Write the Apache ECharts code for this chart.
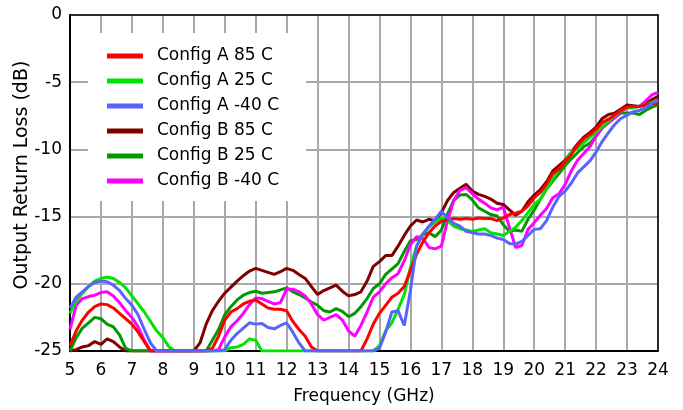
<!DOCTYPE html>
<html>
<head>
<meta charset="utf-8">
<script src="https://cdn.jsdelivr.net/npm/echarts@6/dist/echarts.min.js"></script>
<style>html,body{margin:0;padding:0;background:#fff}#c{width:683px;height:410px}</style>
</head>
<body>
<div id="c"></div>
<script>
// Frequency points (GHz)
const freq = [
 5.0,5.2,5.4,5.6,5.8,6.0,6.2,6.4,6.6,6.8,
 7.0,7.2,7.4,7.6,7.8,8.0,8.2,8.4,8.6,8.8,
 9.0,9.2,9.4,9.6,9.8,10.0,10.2,10.4,10.6,10.8,
 11.0,11.2,11.4,11.6,11.8,12.0,12.2,12.4,12.6,12.8,
 13.0,13.2,13.4,13.6,13.8,14.0,14.2,14.4,14.6,14.8,
 15.0,15.2,15.4,15.6,15.8,16.0,16.2,16.4,16.6,16.8,
 17.0,17.2,17.4,17.6,17.8,18.0,18.2,18.4,18.6,18.8,
 19.0,19.2,19.4,19.6,19.8,20.0,20.2,20.4,20.6,20.8,
 21.0,21.2,21.4,21.6,21.8,22.0,22.2,22.4,22.6,22.8,
 23.0,23.2,23.4,23.6,23.8,24.0];

const configA85 = [
 -24.6,-23.5,-22.7,-22.1,-21.7,-21.5,-21.55,-21.8,-22.2,-22.6,
 -23.0,-23.6,-24.3,-25,-25,-25,-25,-25,-25,-25,
 -25,-25,-25,-24.8,-23.9,-22.7,-22.1,-21.85,-21.5,-21.3,
 -21.2,-21.5,-21.8,-21.9,-21.9,-22.0,-22.8,-23.4,-23.9,-24.7,
 -25,-25,-25,-25,-25,-25,-25,-25,-24.1,-23.0,
 -22.2,-21.6,-21.0,-20.7,-20.2,-19.0,-17.8,-16.9,-16.2,-15.7,
 -15.35,-15.25,-15.15,-15.2,-15.15,-15.2,-15.1,-15.15,-15.15,-15.3,
 -15.1,-14.85,-14.75,-14.6,-14.2,-13.6,-13.2,-12.6,-11.8,-11.5,
 -10.9,-10.4,-9.7,-9.2,-8.9,-8.5,-8.0,-7.75,-7.45,-7.1,
 -6.85,-6.8,-6.8,-6.7,-6.6,-6.6];

const configA25 = [
 -22.2,-21.3,-20.7,-20.2,-19.8,-19.6,-19.5,-19.6,-19.9,-20.3,
 -20.9,-21.5,-22.1,-22.8,-23.5,-24.0,-24.7,-25,-25,-25,
 -25,-25,-25,-25,-25,-25,-24.75,-24.7,-24.5,-24.1,
 -24.2,-25,-25,-25,-25,-25,-25,-25,-25,-25,
 -25,-25,-25,-25,-25,-25,-25,-25,-25,-25,
 -24.6,-23.5,-22.9,-21.9,-20.8,-18.8,-17.2,-16.3,-15.8,-15.4,
 -15.1,-15.3,-15.7,-15.9,-16.0,-16.1,-16.0,-15.9,-16.2,-16.3,
 -16.4,-16.1,-15.8,-15.3,-14.7,-14.1,-13.7,-12.9,-12.2,-11.5,
 -10.9,-10.2,-9.9,-9.5,-9.1,-8.7,-8.3,-7.9,-7.5,-7.1,
 -6.9,-6.9,-6.8,-6.7,-6.5,-6.4];

const configAm40 = [
 -21.8,-21.0,-20.6,-20.2,-19.9,-19.8,-19.85,-20.1,-20.5,-21.1,
 -21.6,-22.3,-23.4,-24.4,-25,-25,-25,-25,-25,-25,
 -25,-25,-25,-25,-25,-24.9,-24.2,-23.7,-23.3,-22.9,
 -23.0,-22.95,-23.25,-23.35,-23.1,-22.9,-23.6,-24.4,-25,-25,
 -25,-25,-25,-25,-25,-25,-25,-25,-25,-25,
 -24.8,-23.6,-22.1,-22.0,-23.1,-20.5,-17.2,-16.3,-15.7,-15.2,
 -14.6,-15.1,-15.5,-15.7,-16.1,-16.2,-16.3,-16.3,-16.4,-16.6,
 -16.7,-17.0,-17.05,-16.85,-16.4,-15.95,-15.9,-15.3,-14.3,-13.5,
 -13.1,-12.5,-11.75,-11.3,-10.85,-10.2,-9.4,-8.75,-8.15,-7.7,
 -7.45,-7.2,-7.1,-6.9,-6.6,-6.3];

const configB85 = [
 -25,-24.9,-24.7,-24.6,-24.3,-24.5,-24.1,-24.3,-24.7,-25,
 -25,-25,-25,-25,-25,-25,-25,-25,-25,-25,
 -25,-24.4,-23.0,-22.0,-21.3,-20.7,-20.25,-19.8,-19.4,-19.05,
 -18.85,-19.0,-19.15,-19.3,-19.1,-18.85,-19.0,-19.3,-19.6,-20.2,
 -20.8,-20.5,-20.3,-20.1,-20.55,-20.9,-20.8,-20.6,-19.8,-18.7,
 -18.35,-17.9,-17.9,-17.2,-16.4,-15.7,-15.25,-15.4,-15.2,-15.3,
 -14.7,-13.8,-13.2,-12.9,-12.6,-13.1,-13.35,-13.5,-13.7,-14.0,
 -14.1,-14.5,-14.9,-14.6,-13.9,-13.4,-13.0,-12.4,-11.6,-11.2,
 -10.8,-10.2,-9.6,-9.1,-8.75,-8.35,-7.7,-7.4,-7.3,-7.0,
 -6.7,-6.75,-6.8,-6.6,-6.3,-6.05];

const configB25 = [
 -25,-24.0,-23.3,-22.9,-22.5,-22.6,-23.0,-23.2,-23.8,-24.8,
 -25,-25,-25,-25,-25,-25,-25,-25,-25,-25,
 -25,-25,-25,-24.2,-23.4,-22.3,-21.7,-21.2,-20.85,-20.65,
 -20.55,-20.7,-20.65,-20.6,-20.45,-20.3,-20.6,-20.8,-21.05,-21.35,
 -21.6,-22.0,-22.1,-21.85,-22.05,-22.45,-22.2,-21.7,-21.1,-20.35,
 -20.0,-19.3,-18.9,-18.5,-17.6,-16.8,-16.7,-16.35,-16.2,-16.5,
 -16.0,-14.8,-13.8,-13.4,-13.35,-13.75,-14.35,-14.6,-14.85,-14.95,
 -15.6,-16.1,-16.0,-16.1,-15.2,-14.5,-13.7,-12.95,-12.35,-11.8,
 -11.2,-10.7,-10.25,-9.8,-9.55,-9.0,-8.4,-8.0,-7.65,-7.3,
 -7.3,-7.3,-7.4,-7.1,-6.85,-6.7];

const configBm40 = [
 -23.4,-21.6,-21.1,-20.95,-20.85,-20.65,-20.6,-20.9,-21.4,-22.0,
 -22.5,-23.2,-24.2,-25,-25,-25,-25,-25,-25,-25,
 -25,-25,-25,-25,-24.9,-23.95,-23.2,-22.75,-22.2,-21.55,
 -21.05,-21.1,-21.3,-21.5,-21.4,-20.4,-20.4,-20.6,-20.9,-21.5,
 -22.3,-22.7,-22.5,-22.3,-22.7,-23.5,-23.9,-23.1,-22.1,-21.0,
 -20.6,-20.0,-19.55,-19.25,-18.3,-17.1,-16.5,-16.6,-17.3,-17.4,
 -17.2,-15.3,-13.8,-13.05,-12.85,-13.3,-13.7,-14.0,-14.35,-14.5,
 -14.3,-15.8,-17.3,-17.15,-15.95,-15.45,-14.9,-14.4,-13.6,-13.3,
 -12.6,-11.6,-10.8,-10.3,-9.8,-9.0,-8.4,-8.0,-7.65,-7.2,
 -6.9,-6.9,-6.8,-6.4,-5.95,-5.75];

const seriesNames = ['Config A 85 C','Config A 25 C','Config A -40 C','Config B 85 C','Config B 25 C','Config B -40 C'];
const seriesValues = [configA85, configA25, configAm40, configB85, configB25, configBm40];
const seriesColors = ['#ff0000','#00e400','#5b63ff','#800000','#009a00','#ff00ff'];
// draw order (bottom to top)
const drawOrder = [3, 4, 5, 1, 0, 2];

const FONT = 'DejaVu Sans';
const chart = echarts.init(document.getElementById('c'), null, {renderer: 'canvas'});

const series = drawOrder.map(i => ({
  name: seriesNames[i],
  type: 'line',
  data: freq.map((f, k) => [f, seriesValues[i][k]]),
  showSymbol: false,
  symbol: 'none',
  lineStyle: {width: 3, color: seriesColors[i]},
  itemStyle: {color: seriesColors[i]},
  animation: false,
  xAxisIndex: 0, yAxisIndex: 0
}));

chart.setOption({
  animation: false,
  backgroundColor: '#fff',
  textStyle: {fontFamily: FONT},
  grid: {left: 70, right: 25, top: 15, bottom: 58, containLabel: false},
  legend: {
    data: seriesNames,
    orient: 'vertical',
    left: 88, top: 33,
    padding: [13, 27, 10, 19],
    backgroundColor: '#ffffff',
    icon: 'rect',
    itemWidth: 36, itemHeight: 5,
    itemGap: 5,
    textStyle: {fontFamily: FONT, fontSize: 17, color: '#000', lineHeight: 20, padding: [0,0,0,9]}
  },
  xAxis: [{
    type: 'value', min: 5, max: 24, interval: 1,
    name: 'Frequency (GHz)', nameLocation: 'middle', nameGap: 37,
    nameTextStyle: {fontFamily: FONT, fontSize: 17, color: '#000'},
    axisLine: {show: true, onZero: false, lineStyle: {color: '#000', width: 2}},
    axisTick: {show: false},
    axisLabel: {fontFamily: FONT, fontSize: 17, color: '#000', margin: 11},
    splitLine: {show: true, lineStyle: {color: '#a8a8ac', width: 2}}
  }, {
    type: 'value', min: 5, max: 24, interval: 1, position: 'top',
    axisLine: {show: true, onZero: false, lineStyle: {color: '#000', width: 1.5}},
    axisTick: {show: false}, axisLabel: {show: false}, splitLine: {show: false}
  }],
  yAxis: [{
    type: 'value', min: -25, max: 0, interval: 5,
    name: 'Output Return Loss (dB)', nameLocation: 'middle', nameGap: 38,
    nameMoveOverlap: false,
    nameTextStyle: {fontFamily: FONT, fontSize: 19, color: '#000', padding: [0, 0, 0, 16]},
    axisLine: {show: true, onZero: false, lineStyle: {color: '#000', width: 2}},
    axisTick: {show: false},
    axisLabel: {fontFamily: FONT, fontSize: 17, color: '#000', margin: 8},
    splitLine: {show: true, lineStyle: {color: '#a8a8ac', width: 2}}
  }, {
    type: 'value', min: -25, max: 0, interval: 5, position: 'right',
    axisLine: {show: true, onZero: false, lineStyle: {color: '#000', width: 1.5}},
    axisTick: {show: false}, axisLabel: {show: false}, splitLine: {show: false}
  }],
  series: series
});
</script>
</body>
</html>
